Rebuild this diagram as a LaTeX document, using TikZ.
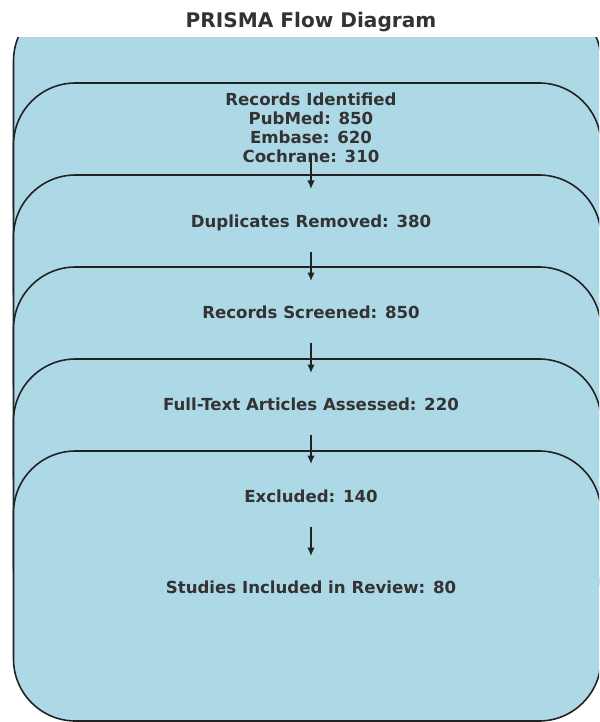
\documentclass[tikz,border=0pt]{standalone}
\usepackage{fontspec}
\setmainfont{DejaVu Sans}
\usetikzlibrary{arrows.meta}
\definecolor{boxfill}{RGB}{173,216,230}
\definecolor{boxline}{RGB}{34,34,34}
\definecolor{txt}{RGB}{51,51,51}
\tikzset{
  stagebox/.style={draw=boxline, line width=1.6pt, fill=boxfill, rounded corners=62pt,
    minimum width=587.5pt, minimum height=270pt, inner sep=0pt},
  label/.style={inner sep=0pt, anchor=base, text=txt, font=\fontsize{16.6}{19.3}\selectfont\bfseries, align=center},
  flow/.style={line width=1.5pt, draw=boxline, -{Latex[length=8.5pt,width=7.5pt]}}
}
\begin{document}
\begin{tikzpicture}[x=1pt,y=-1pt]
\useasboundingbox (0,0) rectangle (599,722);
\node[inner sep=0pt, anchor=base, text=txt, font=\fontsize{20.1}{24}\selectfont\bfseries] (title) at (311,28) {PRISMA Flow Diagram};
\begin{scope}
\clip (0,38) rectangle (599,722);
\node[stagebox] (b1) at (307.25,134) {};
\node[stagebox] (b2) at (307.25,218) {};
\node[stagebox] (b3) at (307.25,310) {};
\node[stagebox] (b4) at (307.25,402) {};
\node[stagebox] (b5) at (307.25,494) {};
\node[stagebox] (b6) at (307.25,586) {};
\end{scope}
\node[label] (t1) at (311,163) {Records Identified\\PubMed: 850\\Embase: 620\\Cochrane: 310};
\node[label] (t2) at (311,227) {Duplicates Removed: 380};
\node[label] (t3) at (311,318) {Records Screened: 850};
\node[label] (t4) at (311,410) {Full-Text Articles Assessed: 220};
\node[label] (t5) at (311,502) {Excluded: 140};
\node[label] (t6) at (311,593) {Studies Included in Review: 80};
\coordinate (a1s) at (311,156); \coordinate (a1e) at (311,189);
\coordinate (a2s) at (311,252); \coordinate (a2e) at (311,281);
\coordinate (a3s) at (311,343); \coordinate (a3e) at (311,373);
\coordinate (a4s) at (311,435); \coordinate (a4e) at (311,464);
\coordinate (a5s) at (311,527); \coordinate (a5e) at (311,556);
\draw[flow] (a1s) -- (a1e);
\draw[flow] (a2s) -- (a2e);
\draw[flow] (a3s) -- (a3e);
\draw[flow] (a4s) -- (a4e);
\draw[flow] (a5s) -- (a5e);
\end{tikzpicture}
\end{document}
